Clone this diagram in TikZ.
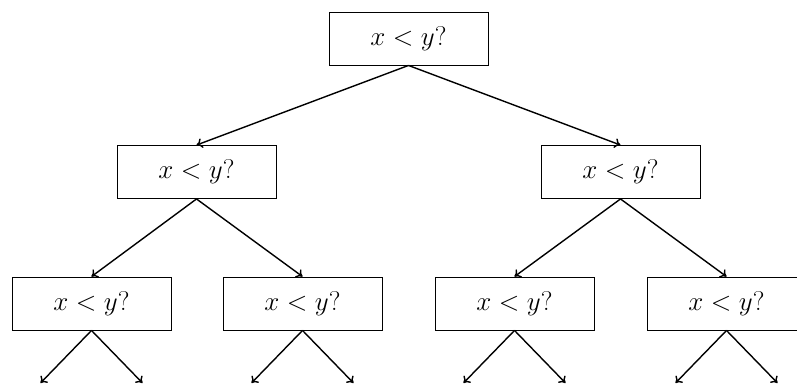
\RequirePackage{fix-cm}
\documentclass[tikz,border=0pt]{standalone}
\usepackage{amsmath}
\usepackage{amssymb}
\usetikzlibrary{arrows, arrows.meta, positioning}

\tikzset{
  test/.style={draw, line width=0.9pt, minimum width=159pt, minimum height=53pt, inner sep=0pt, font=\fontsize{27}{30}\selectfont},
  edge/.style={-{To[length=6pt,width=10pt]}, line width=1.4pt}
}

\begin{document}
\begin{tikzpicture}[x=1pt, y=-1pt]
        \useasboundingbox (0,0) rectangle (797,384);
        % Root test
        \node[test] (root) at (408.5,38.5) {$x < y?$};
        % Second level
        \node[test] (l) at (196.5,172) {$x < y?$};
        \node[test] (r) at (620.5,172) {$x < y?$};
        % Third level
        \node[test] (ll) at (91.5,303.5) {$x < y?$};
        \node[test] (lr) at (302.5,303.5) {$x < y?$};
        \node[test] (rl) at (514.5,303.5) {$x < y?$};
        \node[test] (rr) at (726.5,303.5) {$x < y?$};
        % Loose ends
        \coordinate (lla) at (40.5,383);
        \coordinate (llb) at (142.5,383);
        \coordinate (lra) at (251.5,383);
        \coordinate (lrb) at (353.5,383);
        \coordinate (rla) at (463.5,383);
        \coordinate (rlb) at (565.5,383);
        \coordinate (rra) at (675.5,383);
        \coordinate (rrb) at (777.5,383);
        % Edges
        \draw[edge] (root.south) -- (l.north);
        \draw[edge] (root.south) -- (r.north);
        \draw[edge] (l.south) -- (ll.north);
        \draw[edge] (l.south) -- (lr.north);
        \draw[edge] (r.south) -- (rl.north);
        \draw[edge] (r.south) -- (rr.north);
        \draw[edge] (ll.south) -- (lla);
        \draw[edge] (ll.south) -- (llb);
        \draw[edge] (lr.south) -- (lra);
        \draw[edge] (lr.south) -- (lrb);
        \draw[edge] (rl.south) -- (rla);
        \draw[edge] (rl.south) -- (rlb);
        \draw[edge] (rr.south) -- (rra);
        \draw[edge] (rr.south) -- (rrb);
    \end{tikzpicture}
\end{document}
